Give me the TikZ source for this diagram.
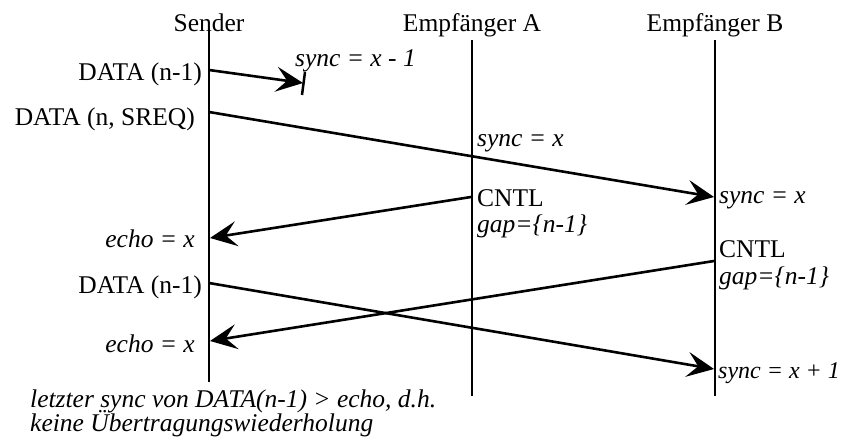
\documentclass[tikz,border=0pt]{standalone}
\usepackage{fontspec}
\setmainfont{Liberation Serif}
\usetikzlibrary{arrows.meta}
\begin{document}
\begin{tikzpicture}[x=1pt,y=-1pt,
  life/.style={line width=2.5pt},
  msg/.style={line width=2.6pt,-{Stealth[length=27pt,width=25pt,inset=11pt]}},
  tickline/.style={line width=2.5pt},
  lbl/.style={inner sep=0pt,font=\fontsize{25.5}{28}\selectfont},
  ilbl/.style={lbl,font=\fontsize{25.5}{28}\selectfont\itshape},
  ilbls/.style={lbl,font=\fontsize{24}{28}\selectfont\itshape}]
\useasboundingbox (0,0) rectangle (845,443);
% lifelines
\coordinate (st) at (209,28);  \coordinate (sb) at (209,382);
\coordinate (at) at (472,40);  \coordinate (ab) at (472,396);
\coordinate (bt) at (715,40);  \coordinate (bb) at (715,396);
\draw[life] (st) -- (sb);
\draw[life] (at) -- (ab);
\draw[life] (bt) -- (bb);
% headers
\node[lbl,anchor=base] (hs) at (209,32) {Sender};
\node[lbl,anchor=base] (ha) at (472,32) {Empfänger A};
\node[lbl,anchor=base] (hb) at (715,32) {Empfänger B};
% left labels
\node[lbl,anchor=base east] (d1) at (202,81) {DATA (n-1)};
\node[lbl,anchor=base east] (d2) at (195,126) {DATA (n, SREQ)};
\node[ilbl,anchor=base east] (e1) at (195,248) {echo = x};
\node[lbl,anchor=base east] (d3) at (202,294) {DATA (n-1)};
\node[ilbl,anchor=base east] (e2) at (195,352) {echo = x};
% right labels
\node[ilbl,anchor=base west] (s0) at (295,67) {sync = x - 1};
\node[ilbl,anchor=base west] (sa) at (477,147) {sync = x};
\node[lbl,anchor=base west] (ca) at (477,207) {CNTL};
\node[ilbl,anchor=base west] (ga) at (477,233) {gap=\{n-1\}};
\node[ilbl,anchor=base west] (sb1) at (719,204) {sync = x};
\node[lbl,anchor=base west] (cb) at (719,258) {CNTL};
\node[ilbl,anchor=base west] (gb) at (719,285) {gap=\{n-1\}};
\node[ilbls,anchor=base west] (sb2) at (718,378) {sync = x + 1};
% bottom note
\node[ilbl,anchor=base west] (n1) at (30,407) {letzter sync von DATA(n-1) > echo, d.h.};
\node[ilbl,anchor=base west] (n2) at (30,431) {keine Übertragungswiederholung};
% message end points
\coordinate (m1s) at (209,70);  \coordinate (m1e) at (303,83);
\coordinate (k1) at (305,72);   \coordinate (k2) at (302,95);
\coordinate (m2s) at (209,112); \coordinate (m2e) at (714,197);
\coordinate (m3s) at (471,197); \coordinate (m3e) at (210,238);
\coordinate (m4s) at (209,283); \coordinate (m4e) at (714,369);
\coordinate (m5s) at (714,261); \coordinate (m5e) at (210,341);
% messages
\draw[msg] (m1s) -- (m1e);
\draw[tickline] (k1) -- (k2);
\draw[msg] (m2s) -- (m2e);
\draw[msg] (m3s) -- (m3e);
\draw[msg] (m4s) -- (m4e);
\draw[msg] (m5s) -- (m5e);
\end{tikzpicture}
\end{document}
